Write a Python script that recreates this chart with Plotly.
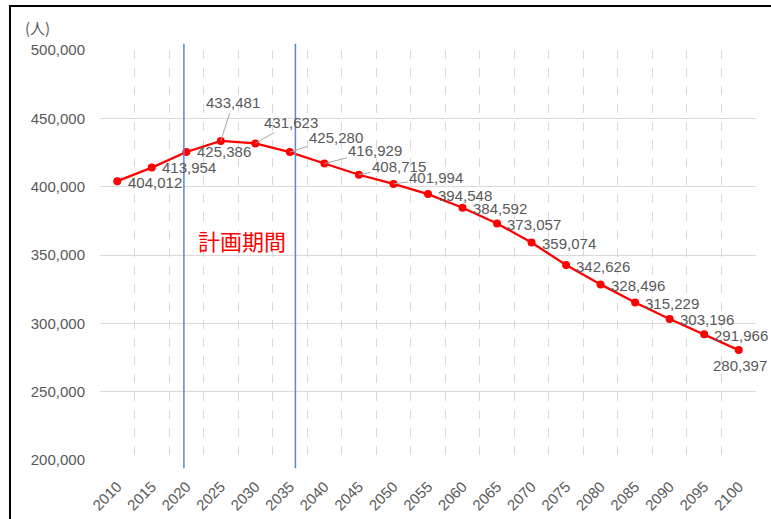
import plotly.graph_objects as go

# ---- data ----
years = ["2010", "2015", "2020", "2025", "2030", "2035", "2040", "2045", "2050", "2055",
         "2060", "2065", "2070", "2075", "2080", "2085", "2090", "2095", "2100"]
population = [404012, 413954, 425386, 433481, 431623, 425280, 416929, 408715, 401994, 394548,
              384592, 373057, 359074, 342626, 328496, 315229, 303196, 291966, 280397]
y_ticks = [200000, 250000, 300000, 350000, 400000, 450000, 500000]
unit_label = "(人)"
plan_label = "計画期間"
plan_start, plan_end = "2020", "2035"

# label offsets (pixels) relative to each point, and whether a leader line is drawn
label_dx = [38, 37, 38, 12, 36, 46, 51, 40, 43, 37, 37, 37, 37, 37, 37, 37, 37, 37, 1]
label_dy = [1, 0, 0, -38, -21, -15, -13, -8, -6, 1, 1, 1, 1, 1, 1, 1, 1, 1, 15]
leader = [False, False, False, True, True, True, True, True, True, False,
          False, False, False, False, False, False, False, False, False]

FONT = "Liberation Sans, Arial, sans-serif"
GRAY = "#595959"
GRID = "#D9D9D9"

xs = list(range(len(years)))

fig = go.Figure()
fig.add_trace(go.Scatter(
    x=xs, y=population, mode="lines+markers",
    line=dict(color="#FF0000", width=2.3),
    marker=dict(color="#FF0000", size=8),
    hoverinfo="skip", showlegend=False,
))

annotations = []
for xi, v, dx, dy, ld in zip(xs, population, label_dx, label_dy, leader):
    annotations.append(dict(
        x=xi, y=v, xref="x", yref="y", text=f"{v:,}",
        showarrow=True, ax=dx, ay=dy, arrowhead=0, arrowwidth=1,
        arrowcolor="#A6A6A6" if ld else "rgba(0,0,0,0)",
        font=dict(family=FONT, size=15, color=GRAY),
        xanchor="center", yanchor="middle", borderpad=1,
    ))

annotations.append(dict(
    x=-0.096, y=1.055, xref="paper", yref="paper", text=unit_label, showarrow=False,
    font=dict(family="Noto Sans CJK JP, " + FONT, size=15, color=GRAY),
    xanchor="center", yanchor="middle",
))
i0, i1 = years.index(plan_start), years.index(plan_end)
annotations.append(dict(
    x=(i0 + i1) / 2 + 0.1, y=0.537, xref="x", yref="paper", text=plan_label, showarrow=False,
    font=dict(family="Noto Sans CJK JP, sans-serif", size=22, color="#FF0000"),
    xanchor="center", yanchor="middle",
))

shapes = [
    dict(type="line", xref="x", yref="paper", x0=i0 - 0.07, x1=i0 - 0.07, y0=-0.02, y1=1.015,
         line=dict(color="#5B87D6", width=1.5)),
    dict(type="line", xref="x", yref="paper", x0=i1 + 0.16, x1=i1 + 0.16, y0=-0.02, y1=1.015,
         line=dict(color="#5B87D6", width=1.5)),
    dict(type="rect", xref="paper", yref="paper", x0=-0.1372, x1=1.2, y0=-0.3, y1=1.1073,
         line=dict(color="black", width=2), fillcolor="rgba(0,0,0,0)", layer="above"),
]

fig.update_layout(
    width=771, height=519,
    margin=dict(l=100, r=15, t=50, b=59, autoexpand=False),
    paper_bgcolor="white", plot_bgcolor="white",
    font=dict(family=FONT, size=15, color=GRAY),
    annotations=annotations, shapes=shapes,
    xaxis=dict(
        range=[-0.5, len(years) - 0.5], tickmode="array", tickvals=xs, ticktext=years,
        tickangle=-45, showgrid=False, zeroline=False, showline=False, ticks="",
        automargin=False,
        tickfont=dict(family=FONT, size=15, color=GRAY), ticklabelstandoff=14,
        minor=dict(tick0=-0.5, dtick=1, showgrid=True, gridcolor=GRID, griddash="dash",
                   gridwidth=1, ticks=""),
    ),
    yaxis=dict(
        range=[200000, 500000], tickmode="array", tickvals=y_ticks,
        tickformat=",", showgrid=True, gridcolor=GRID, gridwidth=1.2,
        zeroline=False, showline=False, ticks="", automargin=False,
        tickfont=dict(family=FONT, size=15, color=GRAY), ticklabelstandoff=14,
    ),
)

fig.write_html("out.html", config={"displayModeBar": False},
               post_script="document.body.style.margin='0';document.body.style.overflow='hidden';")
